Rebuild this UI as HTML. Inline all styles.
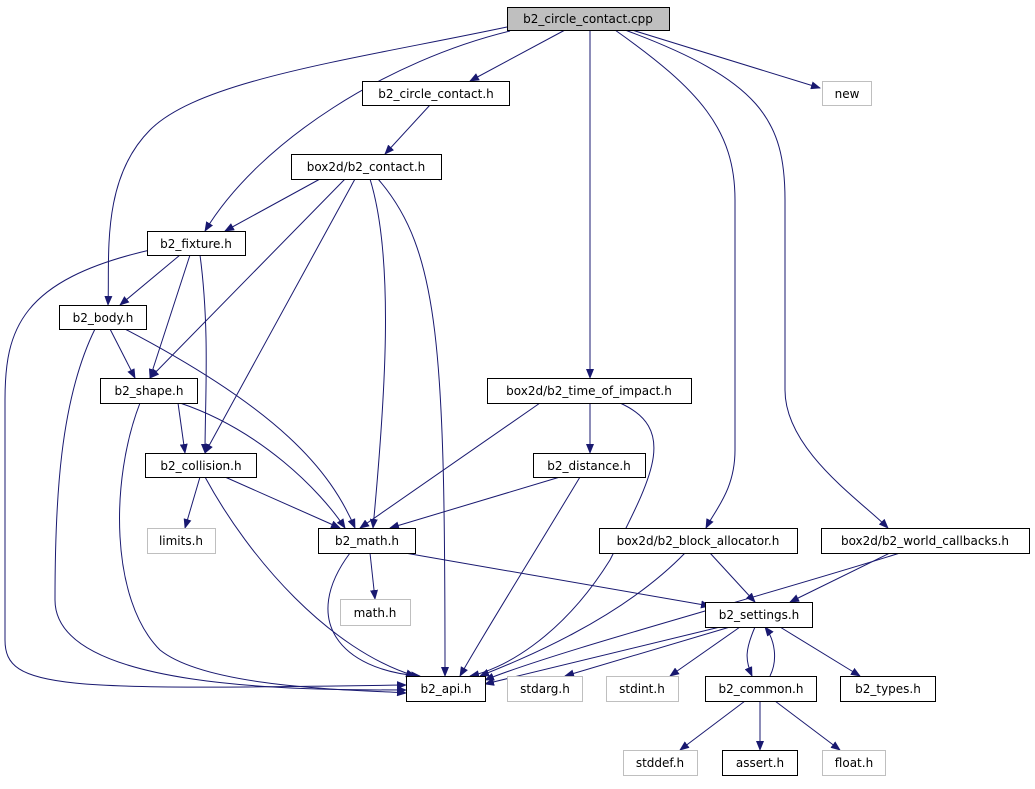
<!DOCTYPE html>
<html><head><meta charset="utf-8"><style>
html,body{margin:0;padding:0;background:#fff;}
svg text{font-family:"DejaVu Sans","Liberation Sans",sans-serif;font-size:12px;fill:#000;text-anchor:middle;}
</style></head><body>
<svg width="1035" height="784" viewBox="0 0 1035 784" xmlns="http://www.w3.org/2000/svg">
<defs><marker id="a" markerWidth="10" markerHeight="8" refX="9" refY="4" orient="auto" markerUnits="userSpaceOnUse"><path d="M0,0 L10,4 L0,8 z" fill="#191970"/></marker></defs>
<g fill="none" stroke="#191970" stroke-width="1" marker-end="url(#a)">
<path d="M565,30 L470,81"/>
<path d="M632,30 L820,88"/>
<path d="M510,31 C390,60 260,140 205,231"/>
<path d="M507,27 C350,60 200,80 150,130 C100,180 110,260 108,305"/>
<path d="M590,30 L590,378"/>
<path d="M615,30 C700,90 735,130 735,200 L735,450 C735,490 715,510 706,528"/>
<path d="M625,30 C760,80 785,120 785,200 L785,390 C785,450 860,500 888,528"/>
<path d="M430,105 L385,154"/>
<path d="M320,179 L225,231"/>
<path d="M345,179 L150,378"/>
<path d="M355,179 L205,453"/>
<path d="M370,179 C395,260 385,400 373,528"/>
<path d="M378,179 C440,250 445,350 445,676"/>
<path d="M180,255 L120,305"/>
<path d="M190,255 L150,378"/>
<path d="M200,255 C210,330 205,400 205,453"/>
<path d="M150,250 C20,280 5,330 5,400 L5,640 C5,690 60,690 406,685"/>
<path d="M110,329 L135,378"/>
<path d="M125,329 C280,410 330,470 355,528"/>
<path d="M95,329 C60,400 55,500 55,600 C55,690 300,690 406,690"/>
<path d="M178,403 L185,453"/>
<path d="M180,403 C260,430 320,490 345,528"/>
<path d="M140,403 C110,480 110,600 160,650 C210,690 370,690 406,693"/>
<path d="M590,403 L590,453"/>
<path d="M540,403 L360,528"/>
<path d="M620,403 C680,430 650,480 610,560 C560,640 500,670 470,676"/>
<path d="M200,477 L185,528"/>
<path d="M225,477 L340,528"/>
<path d="M205,477 C250,560 330,650 415,676"/>
<path d="M560,477 L390,528"/>
<path d="M580,477 C530,560 480,640 460,676"/>
<path d="M370,553 L375,599"/>
<path d="M405,553 L710,606"/>
<path d="M350,553 C300,620 340,670 420,676"/>
<path d="M685,553 C620,620 520,660 480,676"/>
<path d="M710,553 L755,602"/>
<path d="M900,553 C750,600 560,650 485,680"/>
<path d="M890,553 L790,602"/>
<path d="M720,627 L485,684"/>
<path d="M730,627 L565,676"/>
<path d="M740,627 L670,676"/>
<path d="M755,627 C745,650 745,660 752,676"/>
<path d="M780,627 L860,676"/>
<path d="M770,676 C778,660 775,640 765,627"/>
<path d="M745,701 L680,750"/>
<path d="M760,701 L760,750"/>
<path d="M775,701 L840,750"/>
</g>
<g stroke-width="1">
<rect x="507.5" y="7.5" width="162" height="23" fill="#bfbfbf" stroke="#000"/><text x="588" y="23">b2_circle_contact.cpp</text>
<rect x="362.5" y="81.5" width="147" height="24" fill="#fff" stroke="#000"/><text x="436" y="98">b2_circle_contact.h</text>
<rect x="822.5" y="81.5" width="49" height="24" fill="#fff" stroke="#bfbfbf"/><text x="847" y="98">new</text>
<rect x="291.5" y="154.5" width="150" height="25" fill="#fff" stroke="#000"/><text x="366" y="171">box2d/b2_contact.h</text>
<rect x="147.5" y="231.5" width="98" height="24" fill="#fff" stroke="#000"/><text x="196" y="248">b2_fixture.h</text>
<rect x="59.5" y="305.5" width="87" height="24" fill="#fff" stroke="#000"/><text x="103" y="322">b2_body.h</text>
<rect x="100.5" y="378.5" width="97" height="25" fill="#fff" stroke="#000"/><text x="149" y="395">b2_shape.h</text>
<rect x="487.5" y="378.5" width="204" height="25" fill="#fff" stroke="#000"/><text x="589" y="395">box2d/b2_time_of_impact.h</text>
<rect x="145.5" y="453.5" width="111" height="24" fill="#fff" stroke="#000"/><text x="201" y="470">b2_collision.h</text>
<rect x="533.5" y="453.5" width="112" height="24" fill="#fff" stroke="#000"/><text x="589" y="470">b2_distance.h</text>
<rect x="147.5" y="528.5" width="68" height="25" fill="#fff" stroke="#bfbfbf"/><text x="181" y="545">limits.h</text>
<rect x="318.5" y="528.5" width="97" height="25" fill="#fff" stroke="#000"/><text x="367" y="545">b2_math.h</text>
<rect x="599.5" y="528.5" width="198" height="25" fill="#fff" stroke="#000"/><text x="698" y="545">box2d/b2_block_allocator.h</text>
<rect x="821.5" y="528.5" width="208" height="25" fill="#fff" stroke="#000"/><text x="925" y="545">box2d/b2_world_callbacks.h</text>
<rect x="340.5" y="599.5" width="70" height="26" fill="#fff" stroke="#bfbfbf"/><text x="375" y="617">math.h</text>
<rect x="705.5" y="602.5" width="107" height="25" fill="#fff" stroke="#000"/><text x="759" y="619">b2_settings.h</text>
<rect x="406.5" y="676.5" width="79" height="25" fill="#fff" stroke="#000"/><text x="446" y="693">b2_api.h</text>
<rect x="507.5" y="676.5" width="75" height="25" fill="#fff" stroke="#bfbfbf"/><text x="545" y="693">stdarg.h</text>
<rect x="606.5" y="676.5" width="72" height="25" fill="#fff" stroke="#bfbfbf"/><text x="642" y="693">stdint.h</text>
<rect x="705.5" y="676.5" width="111" height="25" fill="#fff" stroke="#000"/><text x="761" y="693">b2_common.h</text>
<rect x="840.5" y="676.5" width="95" height="25" fill="#fff" stroke="#000"/><text x="888" y="693">b2_types.h</text>
<rect x="623.5" y="750.5" width="74" height="25" fill="#fff" stroke="#bfbfbf"/><text x="660" y="767">stddef.h</text>
<rect x="722.5" y="750.5" width="75" height="25" fill="#fff" stroke="#000"/><text x="760" y="767">assert.h</text>
<rect x="822.5" y="750.5" width="63" height="25" fill="#fff" stroke="#bfbfbf"/><text x="854" y="767">float.h</text>
</g>
</svg>
</body></html>
